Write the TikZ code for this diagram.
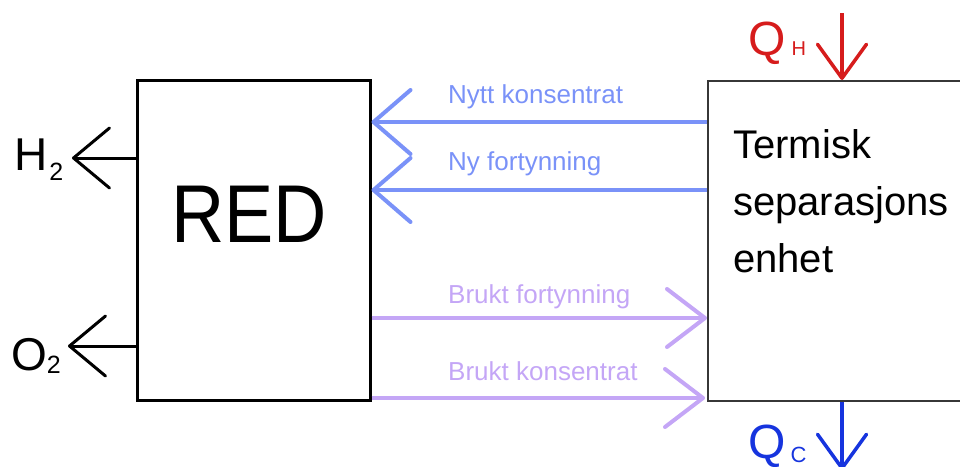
\documentclass[tikz,border=0pt]{standalone}
\usepackage{fontspec}
\setmainfont{Liberation Sans}
\usetikzlibrary{arrows.meta}

\definecolor{flowblue}{RGB}{122,146,248}
\definecolor{flowpurple}{RGB}{196,166,246}
\definecolor{heatred}{RGB}{214,28,28}
\definecolor{coldblue}{RGB}{22,52,222}
\definecolor{framegray}{RGB}{55,55,55}

\begin{document}
\begin{tikzpicture}[x=1pt,y=-1pt,
  txt/.style={inner sep=0pt, anchor=base west},
  flowlabel/.style={txt, font=\fontsize{26}{26}\selectfont},
  gasarrow/.style={black, line width=3pt,
    -{Straight Barb[length=36pt,width=60pt,round]}},
  inflow/.style={flowblue, line width=4pt,
    -{Straight Barb[length=37pt,width=64pt,round]}},
  outflow/.style={flowpurple, line width=4pt,
    -{Straight Barb[length=38pt,width=58pt,round]}},
  heatarrow/.style={line width=3.5pt,
    -{Straight Barb[length=34pt,width=49pt,round]}}
]
\useasboundingbox (0,0) rectangle (960,466);

% main blocks
\node[draw=black, line width=3pt, minimum width=233pt, minimum height=320pt,
  inner sep=0pt] (red) at (253.5,240) {};
\node[txt, font=\fontsize{82}{82}\selectfont, anchor=base] (redtext) at (249,242)
  {\scalebox{0.9}[1]{RED}};

\node[draw=framegray, line width=2pt, minimum width=262pt, minimum height=320pt,
  inner sep=0pt, anchor=north west] (tsu) at (707,80) {};
\node[inner sep=0pt, anchor=north west, align=left,
  font=\fontsize{40}{57}\selectfont] (tsutext) at (733,129)
  {Termisk\\separasjons\\enhet};

% gas outputs
\node[txt, font=\fontsize{46}{46}\selectfont] (h2) at (14,170)
  {H\hspace{2pt}\raisebox{-10pt}{\fontsize{25}{25}\selectfont 2}};
\node[txt, font=\fontsize{46}{46}\selectfont] (o2) at (11,370)
  {O\raisebox{-3pt}{\fontsize{25}{25}\selectfont 2}};
\coordinate (h2tip) at (72,158);
\coordinate (o2tip) at (68,346);
\draw[gasarrow] (red.west |- h2tip) -- (h2tip);
\draw[gasarrow] (red.west |- o2tip) -- (o2tip);

% solution streams
\coordinate (nk) at (0,122);
\coordinate (nf) at (0,190);
\coordinate (bf) at (0,318);
\coordinate (bk) at (0,398);
\draw[inflow] (tsu.west |- nk) -- (red.east |- nk);
\draw[inflow] (tsu.west |- nf) -- (red.east |- nf);
\draw[outflow] (red.east |- bf) -- (tsu.west |- bf);
\draw[outflow] (red.east |- bk) -- ([xshift=-2pt]tsu.west |- bk);

\node[flowlabel, text=flowblue] (nklabel) at (448,103) {Nytt konsentrat};
\node[flowlabel, text=flowblue] (nflabel) at (448,170) {Ny fortynning};
\node[flowlabel, text=flowpurple] (bflabel) at (448,303) {Brukt fortynning};
\node[flowlabel, text=flowpurple] (bklabel) at (448,380) {Brukt konsentrat};

% heat in and out
\coordinate (qhtop) at (842,13);
\coordinate (qcend) at (842,470);
\draw[heatarrow, heatred] (qhtop) -- (qhtop |- tsu.north);
\draw[heatarrow, coldblue] (qcend |- tsu.south) -- (qcend);

\node[txt, text=heatred] (qh) at (748,55)
  {\fontsize{48}{48}\selectfont Q\hspace{6pt}\fontsize{20}{20}\selectfont H};
\node[txt, text=coldblue] (qc) at (748,458)
  {\fontsize{48}{48}\selectfont Q\hspace{5pt}\raisebox{-4pt}{\fontsize{22}{22}\selectfont C}};
\end{tikzpicture}
\end{document}
